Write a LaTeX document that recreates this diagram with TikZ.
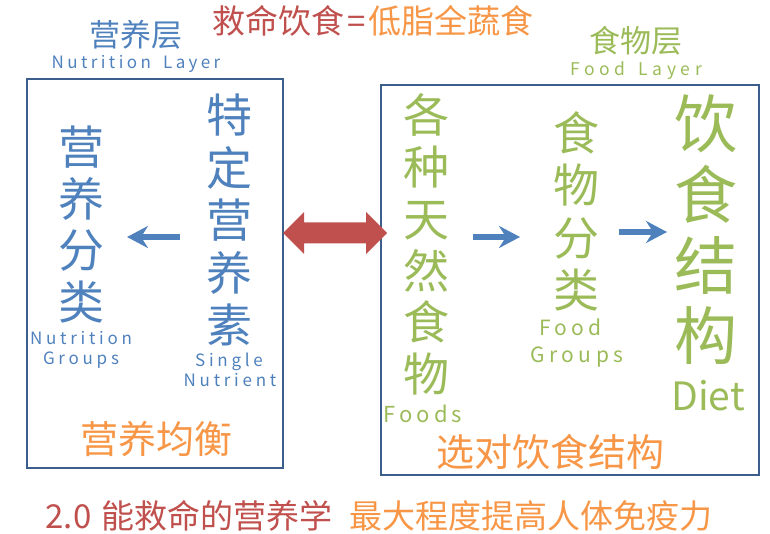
\documentclass[tikz,border=0pt]{standalone}
\usepackage{fontspec}
\setmainfont{Noto Sans CJK SC}
\usetikzlibrary{arrows.meta,calc}
\definecolor{cblue}{HTML}{4F81BD}
\definecolor{cgreen}{HTML}{9BBB59}
\definecolor{corange}{HTML}{F79646}
\definecolor{cred}{HTML}{C0504D}
\definecolor{cframe}{HTML}{3B5E8C}
\newcommand{\myfs}[2]{\fontsize{#1}{#2}\selectfont}
\newcommand{\mylsp}[1]{\addfontfeatures{LetterSpace=#1}}
\begin{document}
\begin{tikzpicture}[x=1pt,y=-1pt,
  txt/.style={inner sep=0pt, outer sep=0pt},
  vert/.style={txt, align=center},
  frame/.style={draw=cframe, line width=2pt, inner sep=0pt, outer sep=0pt},
  barrow/.style={draw=cblue, line width=5.5pt, -{Stealth[length=21pt,width=22pt,inset=7pt]}},
  lab/.style={txt, anchor=base},
  blab/.style={lab, text=cblue, font=\myfs{17}{20}\mylsp{22}},
  glab/.style={lab, text=cgreen, font=\myfs{21}{24}\mylsp{21}},
]
\useasboundingbox (0,0) rectangle (770,534);
% frames
\node[frame, minimum width=256pt, minimum height=389pt] (lbox) at (155,273.5) {};
\node[frame, minimum width=378pt, minimum height=390pt] (rbox) at (570,280) {};
% titles
\node[txt, font=\myfs{33}{36}] (title) at (373,21) {\textcolor{cred}{救命饮食\hspace{3pt}=\hspace{3pt}}\textcolor{corange}{低脂全蔬食}};
\node[txt, text=cblue, font=\myfs{31}{34}] (nl) at (135.5,35) {营养层};
\node[blab, font=\myfs{17}{20}\mylsp{20}] (nle) at (136,69) {Nutrition \hspace{5pt}Layer};
\node[txt, text=cgreen, font=\myfs{31}{34}] (fl) at (635.5,41) {食物层};
\node[lab, text=cgreen, font=\myfs{17.5}{20}\mylsp{26}] (fle) at (636,76) {Food \hspace{5pt}Layer};
% left box
\node[vert, text=cblue, font=\myfs{46}{51.7}] (ng) at (81,224.5) {营\\养\\分\\类};
\node[blab] (nge1) at (81,344) {Nutrition};
\node[blab] (nge2) at (81,364) {Groups};
\node[vert, text=cblue, font=\myfs{46}{52.5}] (sn) at (229,220) {特\\定\\营\\养\\素};
\node[blab] (sne1) at (229,366) {Single};
\node[blab] (sne2) at (230,386) {Nutrient};
\node[txt, text=corange, font=\myfs{38}{40}] (bal) at (156,439) {营养均衡};
% right box
\node[vert, text=cgreen, font=\myfs{46}{51.8}] (nf) at (426,244.5) {各\\种\\天\\然\\食\\物};
\node[glab, font=\myfs{22}{24}\mylsp{18}] (nfe) at (423,422) {Foods};
\node[vert, text=cgreen, font=\myfs{46}{52.3}] (fg) at (576,211.5) {食\\物\\分\\类};
\node[glab] (fge1) at (570.5,335) {Food};
\node[glab] (fge2) at (577,362) {Groups};
\node[vert, text=cgreen, font=\myfs{63}{70.7}] (diet) at (706,230) {饮\\食\\结\\构};
\node[lab, text=cgreen, font=\myfs{39}{40}] (diete) at (708,410) {Diet};
\node[txt, text=corange, font=\myfs{38}{40}] (sel) at (550.5,452) {选对饮食结构};
% bottom line
\node[txt, font=\myfs{33}{36}] (bottom) at (379,516) {\textcolor{cred}{2.0\hspace{10pt}能救命的营养学}\hspace{17pt}\textcolor{corange}{最大程度提高人体免疫力}};
% blue arrows
\draw[barrow] ([shift={(-26,17)}]sn.west) -- ([shift={(23,12.5)}]ng.east);
\draw[barrow] ([shift={(24,-7.5)}]nf.east) -- ([shift={(-33,25.5)}]fg.west);
\draw[barrow] ([shift={(20,20.5)}]fg.east) -- ([shift={(-7.5,2)}]diet.west);
% red double arrow between the layers
\coordinate (L) at ([shift={(0,-40.5)}]lbox.east);
\coordinate (R) at ([shift={(6,-47)}]rbox.west);
\fill[cred] (L) -- ++(21,-21) -- ++(0,10.5) -- ($(R)+(-21,-10.5)$) -- ++(0,-10.5) -- (R)
  -- ++(-21,21) -- ++(0,-10.5) -- ($(L)+(21,10.5)$) -- ++(0,10.5) -- cycle;
\end{tikzpicture}
\end{document}
